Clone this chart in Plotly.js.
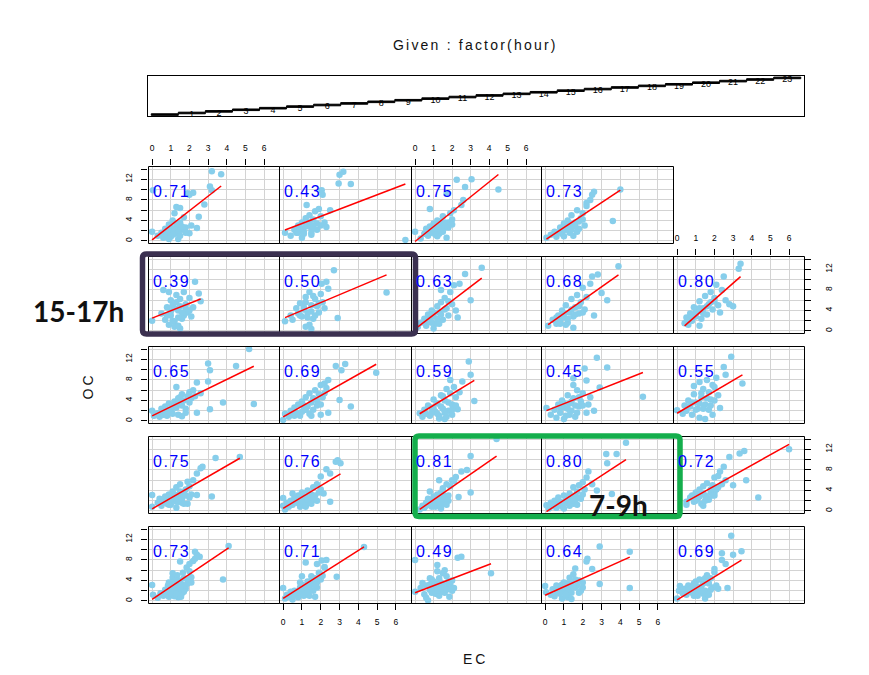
<!DOCTYPE html>
<html><head><meta charset="utf-8">
<script src="https://cdn.plot.ly/plotly-3.0.1.min.js"></script>
<style>html,body{margin:0;padding:0;background:#fff}#chart{width:869px;height:675px}</style>
</head><body><div id="chart"></div>
<script>
// ---------- data ----------
const hours = [0,1,2,3,4,5,6,7,8,9,10,11,12,13,14,15,16,17,18,19,20,21,22,23];
const corrText = ['0.73','0.71','0.49','0.64','0.69','0.75','0.76','0.81','0.80','0.72','0.65','0.69','0.59','0.45','0.55','0.39','0.50','0.63','0.68','0.80','0.71','0.43','0.75','0.73'];
const fitIntercept = [0.3,0.5,1.6,1.1,0.2, 0.4,0.5,-0.3,-0.3,0.8, 1.0,0.8,0.85,1.9,1.5, 2.5,2.45,0.4,0.8,-0.3, 0.2,2.0,-0.1,0.2];
const fitSlope = [2.45,2.33,1.38,1.65,2.25, 2.1,2.2,2.5,2.4,2.03, 1.77,2.07,2.2,1.45,2.14, 1.43,1.54,2.75,2.6,3.2, 2.84,1.4,2.9,2.43];
const xTicks = [0,1,2,3,4,5,6];
const yTicks = [0,2,4,6,8,10,12,14];
const yTickText = ['0','','4','','8','','12',''];

const ec0 = [0.0,0.05,0.3,0.45,0.6,0.7,0.8,0.85,0.9,1.0,1.0,1.1,1.15,1.2,1.25,1.3,1.35,1.4,1.45,1.5,1.5,1.6,1.65,1.7,1.8,1.85,1.9,2.0,2.1,2.2,2.3,2.4,2.55,1.1,1.3,1.7,1.5,2.0,2.3,3.8,4.1,0.95,1.2,1.0,1.2,1.4,1.6,1.8,0.9,1.1,1.3,1.5,1.7,1.9,2.1,1.25,1.55];
const oc0 = [3.1,1.2,0.6,1.5,1.0,2.2,1.2,3.0,0.8,2.5,1.5,4.5,2.0,3.4,1.0,2.8,5.0,0.7,3.5,2.0,4.0,1.5,5.5,3.0,2.4,6.5,4.2,5.8,3.6,7.8,9.6,9.0,8.6,5.4,3.9,1.8,7.7,7.2,8.2,4.2,10.7,2.9,0.9,1.8,2.6,1.6,3.2,3.0,3.6,2.4,1.4,2.6,4.4,3.4,4.6,4.0,0.8];
const ec1 = [0.0,0.1,0.2,0.3,0.4,0.5,0.6,0.7,0.8,0.9,1.0,1.0,1.1,1.2,1.3,1.4,1.5,1.5,1.6,1.7,1.8,1.9,2.0,2.1,2.2,2.3,1.2,1.8,2.05,2.2,2.85,4.3,1.7,1.0,1.4,0.5,0.8,1.0,1.2,1.4,1.6,1.8,1.1,1.3,1.5,0.6,0.9,1.7,2.0];
const oc1 = [2.5,0.5,1.2,0.8,1.8,1.0,2.0,1.4,0.7,2.6,1.6,3.2,2.2,1.2,3.8,2.6,3.2,4.8,2.0,4.4,3.6,5.5,4.2,4.9,6.5,8.0,7.5,7.2,7.9,6.6,4.7,10.5,0.8,4.8,1.0,0.3,1.6,2.4,2.8,2.0,3.4,2.6,1.0,1.6,4.0,1.4,3.6,3.0,5.2];
const ec2 = [0.0,0.0,0.3,0.4,0.5,0.6,0.7,0.8,0.9,1.0,1.0,1.1,1.2,1.3,1.4,1.5,1.5,1.6,1.7,1.8,1.9,2.0,2.1,1.2,2.3,2.5,4.1,0.6,1.85,1.3,1.6,0.8,0.8,1.0,1.1,1.3,1.5,1.6,1.8,0.9,1.2,1.4,1.7,2.0];
const oc2 = [8.0,1.8,2.5,3.5,1.3,3.0,0.1,2.2,1.6,3.8,2.6,1.4,7.0,4.4,2.4,5.4,3.3,1.6,4.8,2.8,3.2,4.0,2.5,5.8,8.4,8.6,5.4,0.6,0.8,1.0,6.0,4.4,3.2,1.8,3.4,2.8,1.8,2.4,3.8,4.2,2.0,3.6,2.2,2.0];
const ec3 = [0.0,0.05,0.3,0.4,0.5,0.6,0.7,0.8,0.9,1.0,1.0,1.1,1.2,1.3,1.3,1.4,1.5,1.6,1.7,1.8,1.9,2.0,2.2,2.25,2.5,2.9,2.9,4.5,4.5,1.4,1.2,1.6,0.8,1.0,1.2,1.4,1.6,0.6,0.9,1.1,1.5,1.8,2.0,1.3];
const oc3 = [2.9,1.7,1.2,2.3,0.9,3.0,1.6,2.4,0.5,3.6,1.8,2.8,1.2,4.5,2.2,3.4,5.2,2.6,3.0,4.0,2.0,3.6,7.7,8.2,6.2,10.6,3.3,9.6,2.5,0.4,0.7,6.3,1.4,2.6,3.4,1.6,4.2,2.0,3.2,1.2,2.8,1.6,2.6,3.0];
const ec4 = [0.0,0.15,0.1,0.3,0.4,0.5,0.6,0.7,0.8,0.9,1.0,1.0,1.1,1.2,1.3,1.4,1.5,1.6,1.7,1.8,1.9,2.0,2.1,2.2,2.4,2.6,2.7,2.0,2.9,3.0,3.45,2.4,1.5,0.6,0.8,1.0,1.2,1.4,1.6,1.8,0.9,1.1,1.3,1.5,1.7];
const oc4 = [0.5,2.9,2.0,1.5,2.4,1.2,3.0,1.8,2.6,1.0,3.8,2.2,1.6,4.2,2.8,3.4,2.0,5.0,3.4,4.4,2.6,5.6,3.0,2.4,8.0,7.2,2.5,6.2,12.7,9.0,9.7,9.3,0.5,2.2,1.6,3.0,2.6,1.4,3.8,2.2,3.4,1.0,2.0,4.4,1.2];
const ec5 = [0.0,0.0,0.3,0.4,0.5,0.6,0.7,0.8,0.9,1.0,1.0,1.1,1.2,1.3,1.4,1.5,1.5,1.6,1.7,1.8,1.9,2.0,2.1,2.2,2.4,2.4,2.6,2.7,3.2,3.4,4.7,1.3,1.9,0.8,1.0,1.2,1.4,1.6,1.8,0.9,1.1,1.3,1.5,1.7,2.0];
const oc5 = [3.1,0.8,1.6,2.4,1.0,2.0,2.8,1.4,3.2,2.2,1.2,3.8,2.6,4.6,1.8,3.0,5.2,2.4,3.6,4.2,5.7,4.8,3.2,6.0,7.3,3.1,8.3,8.6,2.8,10.3,10.5,0.6,1.4,2.2,1.8,3.2,2.4,1.6,3.0,1.2,2.8,1.8,3.8,1.4,2.6];
const ec6 = [0.0,0.0,0.1,0.2,0.3,0.4,0.5,0.6,0.7,0.8,0.9,1.0,1.0,1.1,1.2,1.3,1.4,1.5,1.6,1.7,1.8,1.9,2.0,2.0,2.15,2.3,2.5,2.5,2.8,2.9,3.05,0.5,1.2,0.6,0.8,1.0,1.2,1.4,1.6,0.4,0.9,1.1,1.3,1.5,1.8];
const oc6 = [1.0,2.5,0.3,1.6,0.8,2.0,1.2,2.6,1.6,3.0,1.4,2.2,3.6,1.8,2.8,4.0,2.4,3.2,4.6,3.0,5.2,3.6,6.7,4.2,3.4,8.1,7.3,1.8,9.6,9.9,9.3,3.4,0.8,1.8,2.2,1.8,1.0,1.6,2.2,1.2,0.8,2.8,2.2,1.4,2.0];
const ec7 = [0.25,0.4,0.5,0.6,0.7,0.8,0.9,1.0,1.0,1.1,1.2,1.2,1.3,1.4,1.5,1.5,1.6,1.7,1.8,1.9,2.0,2.1,2.2,2.5,2.35,2.8,3.0,3.0,4.4,1.3,0.8,1.4,0.6,0.8,1.0,1.2,1.4,1.6,1.8,0.9,1.1,1.3,1.5,1.7];
const oc7 = [0.3,1.0,0.6,1.6,2.4,1.2,2.0,2.8,1.4,0.8,3.2,2.0,1.2,3.6,2.4,4.4,1.6,5.2,3.0,4.8,6.0,5.8,6.6,7.7,2.7,8.0,10.7,3.6,14.0,6.0,3.8,0.5,1.0,2.0,1.6,2.6,1.0,2.8,2.0,0.8,2.4,1.6,3.2,1.2];
const ec8 = [0.07,0.2,0.3,0.4,0.5,0.6,0.7,0.8,0.9,1.0,1.1,1.2,1.3,1.4,1.5,1.5,1.6,1.7,1.8,1.9,2.0,2.1,2.2,2.3,2.5,2.75,3.25,3.3,3.55,3.8,4.3,1.0,0.6,0.8,1.0,1.2,1.4,1.6,1.8,2.0,1.3,1.7];
const oc8 = [1.1,0.5,1.6,0.9,2.0,1.3,2.6,1.8,0.8,3.0,2.2,1.5,3.4,2.6,4.6,1.4,3.0,3.8,5.0,2.4,5.6,4.2,6.5,7.7,5.2,4.0,11.1,9.3,3.3,11.1,13.3,0.5,0.6,1.2,1.6,2.6,1.8,2.0,2.6,3.2,1.0,1.2];
const ec9 = [0.5,0.5,0.7,0.8,0.9,1.0,1.1,1.2,1.3,1.4,1.5,1.6,1.7,1.8,1.9,2.0,2.1,2.2,2.3,2.4,2.5,2.6,2.8,3.0,3.35,3.6,3.7,4.35,6.0,1.4,2.0,1.0,1.2,1.4,1.6,1.8,2.0,1.1,1.5,1.9,2.2];
const oc9 = [1.8,1.2,2.6,3.0,1.8,3.6,2.4,4.2,1.4,4.8,3.0,5.4,2.2,3.6,5.0,6.5,4.2,6.8,7.7,5.2,8.6,6.0,10.5,5.0,11.2,11.7,6.0,2.6,12.0,1.0,3.6,2.0,2.8,3.4,2.6,4.2,3.0,3.4,2.0,3.0,4.6];
const ec10 = [0.0,0.1,0.3,0.4,0.5,0.6,0.7,0.8,0.9,1.0,1.1,1.2,1.3,1.3,1.4,1.5,1.6,1.7,1.8,1.9,2.0,2.1,2.2,2.4,2.4,2.6,3.0,3.0,3.1,3.1,3.8,4.5,5.2,5.45,1.6,2.3,0.8,1.0,1.2,1.4,1.6,1.8,2.0,0.6,1.1,1.5];
const oc10 = [2.0,1.0,1.5,0.8,2.4,1.2,2.8,1.0,3.4,2.0,1.4,3.8,6.6,2.6,4.4,3.4,5.2,4.0,1.6,4.8,5.6,4.4,6.0,7.5,1.6,5.4,11.2,7.7,9.9,2.3,3.6,10.7,14.0,3.3,0.9,4.8,2.2,1.6,2.6,1.2,3.0,2.4,3.6,1.8,2.8,4.6];
const ec11 = [0.0,0.1,0.3,0.4,0.5,0.6,0.7,0.8,0.9,1.0,1.1,1.2,1.3,1.4,1.5,1.6,1.7,1.8,1.9,2.0,2.1,2.2,2.3,2.4,2.8,3.0,3.1,3.3,3.6,4.95,1.5,2.0,2.4,0.6,0.8,1.0,1.2,1.4,1.6,1.8,2.0,2.2,1.1];
const oc11 = [0.2,1.4,0.8,2.0,1.2,2.6,1.6,3.2,1.0,3.8,2.2,4.6,2.8,5.4,3.6,4.4,6.0,3.0,5.2,7.0,4.6,7.3,6.4,1.6,10.7,4.1,9.9,11.1,2.8,9.4,1.0,1.2,8.0,1.0,1.4,1.8,2.2,1.4,2.2,4.0,3.2,5.4,3.0];
const ec12 = [0.25,0.4,0.5,0.6,0.7,0.8,0.9,1.0,1.1,1.2,1.3,1.4,1.5,1.6,1.7,1.8,1.9,2.0,2.1,2.2,2.3,2.4,2.55,2.9,3.0,3.2,1.9,1.3,2.0,1.6,1.0,1.2,1.4,1.6,1.8,2.0,2.2,1.5,1.7,0.9];
const oc12 = [1.5,0.8,2.2,1.4,3.0,1.0,2.6,4.2,1.8,3.4,0.5,5.0,2.4,4.0,6.2,2.0,5.4,3.2,6.6,4.6,2.3,5.6,7.7,11.6,9.0,3.9,8.0,1.0,1.2,0.4,2.4,1.4,2.8,1.6,3.6,2.2,3.0,4.8,0.8,1.6];
const ec13 = [0.07,0.3,0.5,0.6,0.7,0.8,0.9,1.0,1.1,1.2,1.3,1.4,1.5,1.5,1.6,1.7,1.8,1.9,2.0,2.1,2.2,2.2,2.4,2.6,2.75,2.9,3.3,5.2,1.0,1.5,1.0,1.2,1.4,1.6,1.8,2.0,1.3,1.7,0.8,2.3];
const oc13 = [2.5,1.2,2.2,0.6,3.2,1.6,4.0,2.6,1.0,5.0,3.4,2.0,8.3,4.4,0.8,6.0,2.8,3.8,5.4,10.2,7.9,1.6,4.6,2.0,12.3,6.5,10.4,4.7,0.4,7.0,3.4,2.4,3.8,3.0,4.6,3.0,1.2,1.6,2.6,3.2];
const ec14 = [0.0,0.3,0.4,0.5,0.6,0.7,0.8,0.9,1.0,1.1,1.2,1.3,1.4,1.5,1.6,1.7,1.8,1.9,1.9,2.0,2.1,2.2,2.3,2.5,2.6,2.9,3.5,1.2,1.5,0.9,0.6,0.8,1.0,1.2,1.4,1.6,1.8,2.0,1.3,1.7];
const oc14 = [2.1,1.4,3.0,2.0,4.0,2.8,1.2,5.2,3.6,2.4,7.6,4.6,6.2,3.2,8.0,5.6,4.2,1.2,7.0,6.6,8.4,5.0,2.5,10.5,9.0,12.5,7.3,0.6,0.4,6.8,2.8,3.6,2.2,3.4,2.4,4.4,3.0,4.0,5.4,2.2];
const ec15 = [0.0,0.5,0.6,0.7,0.8,0.9,1.0,1.0,1.1,1.2,1.3,1.4,1.5,1.5,1.6,1.7,1.8,1.9,2.0,2.1,2.2,2.3,2.5,2.6,1.2,1.4,0.9,1.7,0.8,1.0,1.2,1.4,1.6,1.8,1.1,1.3,1.5,2.0];
const oc15 = [2.0,3.4,8.0,2.2,4.6,1.2,6.0,3.0,5.0,1.8,7.0,4.0,0.5,6.2,2.4,7.6,5.2,3.6,6.4,2.8,4.6,9.6,7.3,5.8,0.8,1.0,7.6,3.0,3.0,3.8,4.4,2.6,3.6,4.4,2.0,5.6,4.8,4.0];
const ec16 = [0.1,0.4,0.5,0.7,0.8,0.9,1.0,1.1,1.2,1.3,1.4,1.4,1.5,1.6,1.7,1.8,1.9,2.0,2.05,2.1,2.3,2.4,2.7,2.9,5.5,1.5,1.2,0.9,1.1,1.3,1.5,1.7,1.9,1.2,1.6,2.2];
const oc16 = [1.9,3.0,2.2,4.4,3.4,5.4,2.8,4.2,6.6,3.6,1.2,7.6,5.0,2.4,6.2,4.8,3.6,7.2,9.2,5.6,9.6,8.2,11.8,2.5,7.5,0.4,0.8,3.0,4.6,2.6,3.8,3.0,5.4,5.6,6.8,4.4];
const ec17 = [0.15,0.3,0.5,0.6,0.7,0.8,0.9,1.0,1.1,1.2,1.3,1.4,1.5,1.6,1.7,1.8,1.9,2.0,2.1,2.2,2.4,2.7,3.0,3.6,1.0,1.4,2.3,0.6,0.8,1.0,1.2,1.4,1.6,1.8,0.9,1.3];
const oc17 = [0.8,1.6,2.4,1.0,3.2,2.0,4.0,2.8,1.4,4.8,3.6,5.6,2.2,6.4,4.4,3.0,7.6,5.2,8.9,4.0,9.2,11.1,6.0,12.3,0.5,8.0,2.6,2.0,2.8,3.6,2.4,3.2,4.2,5.8,1.6,1.4];
const ec18 = [0.16,0.4,0.6,0.7,0.8,0.9,1.0,1.1,1.2,1.3,1.4,1.5,1.6,1.7,1.8,1.9,2.0,2.1,2.2,2.4,2.6,2.8,3.0,3.3,3.9,1.5,2.5,0.6,0.8,1.0,1.2,1.4,1.6,1.8,2.0,1.1];
const oc18 = [1.0,2.2,1.4,3.0,2.0,4.0,2.6,5.0,1.6,3.6,6.2,2.8,4.6,7.0,3.4,5.6,8.4,4.2,6.6,9.2,3.0,11.0,7.4,6.0,12.6,0.6,10.6,2.6,1.4,3.4,2.4,4.2,3.2,4.8,3.6,1.2];
const ec19 = [0.4,0.5,0.6,0.7,0.8,0.9,1.0,1.1,1.2,1.3,1.4,1.5,1.6,1.7,1.8,1.9,2.0,2.1,2.2,2.3,2.5,2.6,2.8,3.0,3.3,3.4,1.2,2.4,0.6,0.8,1.0,1.2,1.4,1.6,1.8,2.0];
const oc19 = [1.5,2.6,1.2,3.4,2.0,4.6,2.8,3.8,5.8,2.4,4.4,6.8,3.2,5.2,7.6,4.2,6.4,9.0,5.0,3.6,10.6,6.0,5.2,4.8,12.1,13.1,1.0,8.0,2.0,2.8,3.6,4.4,3.4,4.8,5.6,5.8];
const ec20 = [0.0,0.05,0.3,0.5,0.6,0.7,0.8,0.9,1.0,1.0,1.1,1.2,1.2,1.3,1.4,1.5,1.5,1.6,1.7,1.8,1.9,2.0,2.1,2.2,2.4,2.5,2.8,3.1,3.2,3.2,3.7,1.3,2.0,0.8,1.0,1.2,1.4,1.6,1.8,1.1,1.5,0.9,1.3];
const oc20 = [1.8,9.9,1.0,1.6,0.6,2.4,1.2,3.2,0.8,2.0,4.0,1.4,5.4,2.8,0.4,3.6,6.4,2.2,4.6,2.6,9.3,9.0,3.0,9.4,2.5,4.7,7.1,10.6,9.9,13.6,13.0,6.6,1.5,1.8,2.6,2.2,1.8,2.8,1.6,1.2,1.0,0.4,3.4];
const ec21 = [0.1,0.4,0.6,0.7,0.8,0.9,1.0,1.1,1.2,1.25,1.3,1.4,1.5,1.6,1.7,1.8,1.9,2.0,2.05,2.1,2.2,2.3,2.5,2.95,3.0,3.2,3.6,6.5,1.5,1.0,0.8,1.0,1.2,1.4,1.6,1.8,2.0,1.1,1.5];
const oc21 = [1.6,1.0,2.2,1.6,3.0,2.4,3.6,1.8,4.4,7.0,3.0,5.0,2.4,4.2,5.8,3.4,6.2,4.8,9.9,9.0,3.6,2.7,6.0,11.2,12.9,13.5,11.1,0.2,1.2,0.6,1.6,2.4,2.8,3.6,3.0,2.2,3.0,1.4,1.6];
const ec22 = [0.0,0.3,0.5,0.6,0.7,0.8,0.8,0.9,1.0,1.1,1.2,1.3,1.4,1.5,1.6,1.7,1.8,1.9,2.0,2.1,2.25,2.5,2.6,2.7,3.05,4.5,1.7,1.2,0.8,1.0,1.2,1.4,1.6,1.8,2.0,1.1,1.5,1.3];
const oc22 = [1.8,0.5,1.4,2.4,1.0,6.2,2.8,1.6,3.4,2.2,4.0,1.4,3.0,4.8,2.6,9.2,3.6,5.4,4.2,6.0,11.9,7.0,8.0,10.5,12.0,10.0,0.6,0.9,1.8,2.0,2.8,2.2,3.6,2.6,3.2,1.2,1.8,3.8];
const ec23 = [0.07,0.3,0.5,0.6,0.8,0.9,1.0,1.1,1.2,1.3,1.4,1.5,1.6,1.7,1.8,1.9,2.0,2.1,2.2,2.4,2.5,2.6,3.6,4.0,1.0,1.5,2.2,0.6,0.8,1.0,1.2,1.4,1.6,1.8,2.0,1.3,1.7];
const oc23 = [0.6,1.2,1.8,0.8,2.6,1.4,3.4,2.2,4.0,1.6,5.0,2.8,3.6,6.0,2.4,4.4,5.4,3.0,6.8,8.0,9.0,9.6,3.9,10.0,0.9,1.0,7.4,1.4,1.8,2.6,2.8,2.2,3.0,3.8,4.2,3.4,1.8];

const EC = [ec0,ec1,ec2,ec3,ec4,ec5,ec6,ec7,ec8,ec9,ec10,ec11,ec12,ec13,ec14,ec15,ec16,ec17,ec18,ec19,ec20,ec21,ec22,ec23];
const OC = [oc0,oc1,oc2,oc3,oc4,oc5,oc6,oc7,oc8,oc9,oc10,oc11,oc12,oc13,oc14,oc15,oc16,oc17,oc18,oc19,oc20,oc21,oc22,oc23];

// ---------- layout geometry (pixels) ----------
const W = 869, H = 675;
const colL = [148, 279, 411, 541, 673, 804];
const rowT = [526, 436, 346, 256, 166];
const PH = 77;
const FONT = 'Liberation Sans, Arial, sans-serif';
const px = v => v / W, py = v => 1 - v / H;

const traces = [];
const layout = {
  width: W, height: H, margin: {l:0, r:0, t:0, b:0},
  paper_bgcolor: '#ffffff', plot_bgcolor: '#ffffff',
  showlegend: false, font: {family: FONT, color: '#000'},
  annotations: [], shapes: []
};

const topX = [20, 22, 19], botX = [1, 3], leftY = [0, 10, 20], rightY = [9, 19];

hours.forEach((h, i) => {
  const n = i + 1;
  const xa = n === 1 ? 'x' : 'x' + n, ya = n === 1 ? 'y' : 'y' + n;
  const xk = n === 1 ? 'xaxis' : 'xaxis' + n, yk = n === 1 ? 'yaxis' : 'yaxis' + n;
  const c = i % 5, r = Math.floor(i / 5);
  const hasX = topX.includes(i) || botX.includes(i);
  const hasY = leftY.includes(i) || rightY.includes(i);
  layout[xk] = {
    domain: [px(colL[c]), px(colL[c + 1])], anchor: ya,
    range: [-0.22, 6.8], tickmode: 'array', tickvals: xTicks, ticktext: xTicks.map(String),
    showgrid: true, gridcolor: '#d3d3d3', gridwidth: 1, zeroline: false, showline: false,
    ticks: hasX ? 'outside' : '', ticklen: 6, tickcolor: '#000',
    showticklabels: hasX, side: topX.includes(i) ? 'top' : 'bottom',
    tickfont: {size: 8.5, family: FONT}, ticklabelstandoff: 5, fixedrange: true
  };
  layout[yk] = {
    domain: [py(rowT[r] + PH), py(rowT[r])], anchor: xa,
    range: [-0.4, 14.6], tickmode: 'array', tickvals: yTicks, ticktext: yTickText,
    showgrid: true, gridcolor: '#d3d3d3', gridwidth: 1, zeroline: false, showline: false,
    ticks: hasY ? 'outside' : '', ticklen: 6, tickcolor: '#000',
    showticklabels: hasY, side: rightY.includes(i) ? 'right' : 'left',
    tickangle: -90, tickfont: {size: 8.5, family: FONT},
    ticklabelstandoff: rightY.includes(i) ? 11 : 6, fixedrange: true
  };
  // panel frame
  layout.shapes.push({type: 'rect', xref: 'paper', yref: 'paper',
    x0: px(colL[c] + 0.5), x1: px(colL[c + 1] + 0.5), y0: py(rowT[r] + PH + 0.5), y1: py(rowT[r] + 0.5),
    line: {color: '#000', width: 1}, fillcolor: 'rgba(0,0,0,0)', layer: 'above'});
  const xs = EC[i], ys = OC[i];
  traces.push({type: 'scatter', mode: 'markers', x: xs, y: ys, xaxis: xa, yaxis: ya,
    marker: {color: '#87CEEB', size: 6.5, line: {width: 0}}, hoverinfo: 'skip'});
  const x0 = Math.min(...xs), x1 = Math.max(...xs);
  traces.push({type: 'scatter', mode: 'lines', x: [x0, x1],
    y: [fitIntercept[i] + fitSlope[i] * x0, fitIntercept[i] + fitSlope[i] * x1],
    xaxis: xa, yaxis: ya, line: {color: '#ff0000', width: 1.5}, hoverinfo: 'skip'});
  layout.annotations.push({xref: xa, yref: ya, x: 0.11, y: 9.6, text: corrText[i],
    xanchor: 'left', yanchor: 'middle', showarrow: false,
    font: {size: 16, color: '#0000ff', family: FONT}});
});

// ---------- given panel ----------
layout.xaxis25 = {domain: [px(148), px(804)], anchor: 'y25', range: [-0.62, 23.62],
  showgrid: false, zeroline: false, showline: true, mirror: true, linecolor: '#000', linewidth: 1,
  ticks: '', showticklabels: false, fixedrange: true};
layout.yaxis25 = {domain: [py(116), py(76)], anchor: 'x25', range: [-0.9, 24.2],
  showgrid: false, zeroline: false, showline: true, mirror: true, linecolor: '#000', linewidth: 1,
  ticks: '', showticklabels: false, fixedrange: true};
hours.forEach(h => {
  layout.shapes.push({type: 'rect', xref: 'x25', yref: 'y25', x0: h - 0.5, x1: h + 0.5,
    y0: h - 0.5, y1: h + 0.5, line: {color: '#000', width: 1}, fillcolor: '#000', layer: 'above'});
});
traces.push({type: 'scatter', mode: 'text', x: hours, y: hours.map(h => h - 1.3),
  text: hours.map(String), textposition: 'middle center', xaxis: 'x25', yaxis: 'y25',
  textfont: {size: 9, color: '#000', family: FONT}, hoverinfo: 'skip', cliponaxis: false});

// ---------- titles ----------
layout.annotations.push(
  {xref: 'paper', yref: 'paper', x: px(475), y: py(45), text: 'Given : factor(hour)', showarrow: false,
   xanchor: 'center', yanchor: 'middle', font: {size: 14, family: FONT, color: '#111'}},
  {xref: 'paper', yref: 'paper', x: px(476), y: py(659), text: 'EC', showarrow: false,
   xanchor: 'center', yanchor: 'middle', font: {size: 14, family: FONT, color: '#111'}},
  {xref: 'paper', yref: 'paper', x: px(87.5), y: py(386), text: 'OC', showarrow: false, textangle: -90,
   xanchor: 'center', yanchor: 'middle', font: {size: 14, family: FONT, color: '#111'}},
  {xref: 'paper', yref: 'paper', x: px(78), y: py(311), text: '<b>15-17h</b>', showarrow: false,
   xanchor: 'center', yanchor: 'middle', font: {size: 28, family: 'Lato, Liberation Sans, sans-serif', color: '#111'}},
  {xref: 'paper', yref: 'paper', x: px(618), y: py(505), text: '<b>7-9h</b>', showarrow: false,
   xanchor: 'center', yanchor: 'middle', font: {size: 28, family: 'Lato, Liberation Sans, sans-serif', color: '#111'}}
);

// ---------- highlight boxes ----------
function roundRect(x0, y0, x1, y1, rad) {
  const a = px(x0), b = px(x1), t = py(y0), u = py(y1), rx = rad / W, ry = rad / H;
  return `M ${a + rx},${t} L ${b - rx},${t} Q ${b},${t} ${b},${t - ry} L ${b},${u + ry} Q ${b},${u} ${b - rx},${u} ` +
         `L ${a + rx},${u} Q ${a},${u} ${a},${u + ry} L ${a},${t - ry} Q ${a},${t} ${a + rx},${t} Z`;
}
layout.shapes.push(
  {type: 'path', xref: 'paper', yref: 'paper', path: roundRect(142.5, 254, 415.5, 334, 4),
   line: {color: '#3b3050', width: 5.5}, fillcolor: 'rgba(0,0,0,0)', layer: 'above'},
  {type: 'path', xref: 'paper', yref: 'paper', path: roundRect(415, 436, 680, 516.5, 4),
   line: {color: '#14ae4c', width: 5.5}, fillcolor: 'rgba(0,0,0,0)', layer: 'above'}
);

Plotly.newPlot('chart', traces, layout, {displayModeBar: false, staticPlot: true}).then(() => {
  // R-style wide letter spacing for the text labels
  document.querySelectorAll('.annotation-text').forEach(el => {
    const t = el.textContent;
    if (corrText.includes(t)) el.setAttribute('letter-spacing', '1.5');
    else if (t === 'Given : factor(hour)') el.setAttribute('letter-spacing', '2.2');
    else if (t === 'EC' || t === 'OC') el.setAttribute('letter-spacing', '3');
  });
});
</script></body></html>
